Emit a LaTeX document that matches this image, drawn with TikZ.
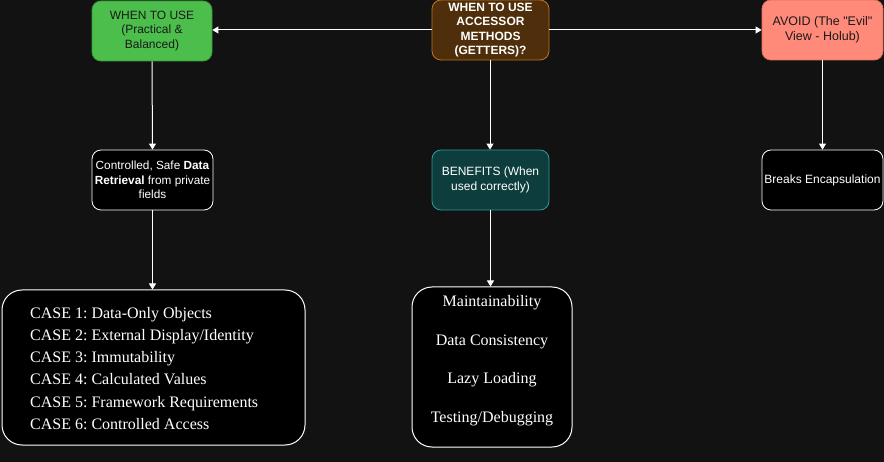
\documentclass[tikz,border=0pt]{standalone}
\usepackage{fontspec}
\setmainfont{Liberation Sans}[Ligatures=TeXOff]
\newfontfamily\serifl{Liberation Serif}
\usetikzlibrary{arrows.meta}
\definecolor{bgc}{HTML}{121212}
\definecolor{greenf}{HTML}{4BBE4B}
\definecolor{greend}{HTML}{3A9A3A}
\definecolor{brownf}{HTML}{4F2E0B}
\definecolor{brownd}{HTML}{C0741F}
\definecolor{salmonf}{HTML}{FF8A7A}
\definecolor{salmond}{HTML}{E07060}
\definecolor{tealf}{HTML}{0E3D3E}
\definecolor{teald}{HTML}{2A9C9C}
\definecolor{darktxt}{HTML}{1A1A1A}
\frenchspacing
\tikzset{
  box/.style={rounded corners=9pt, line width=0.8pt, align=center, inner sep=0pt,
    font=\fontsize{12}{14.5}\selectfont},
  listbox/.style={rounded corners=20pt, line width=1pt, draw=white, fill=black, inner sep=0pt},
  conn/.style={draw=white, line width=1pt, -{Triangle[width=7pt,length=6pt]}},
  listtext/.style={text=white, font=\serifl\fontsize{16}{22}\selectfont, inner sep=0pt}
}
\begin{document}
\begin{tikzpicture}[x=1pt,y=-1pt]
\fill[bgc] (0,0) rectangle (884,462);
\useasboundingbox (0,0) rectangle (884,462);
% top row
\node[box, draw=greend, fill=greenf, text=darktxt, minimum width=120pt, minimum height=60pt] (use) at (152,31) {WHEN TO USE\\(Practical \&\\Balanced)};
\node[box, draw=brownd, fill=brownf, text=white, minimum width=117pt, minimum height=60pt, font=\bfseries\fontsize{12}{14.3}\selectfont] (q) at (490.5,30) {WHEN TO USE\\ACCESSOR\\METHODS\\(GETTERS)?};
\node[box, draw=salmond, fill=salmonf, text=darktxt, minimum width=121pt, minimum height=60pt, font=\fontsize{12.5}{15}\selectfont] (avoid) at (822.5,30) {AVOID (The "Evil"\\View - Holub)};
% second row
\node[box, draw=white, fill=black, text=white, minimum width=121pt, minimum height=60pt, font=\fontsize{11.8}{14.5}\selectfont] (ctrl) at (152.5,180) {Controlled, Safe \textbf{Data}\\\textbf{Retrieval} from private\\fields};
\node[box, draw=teald, fill=tealf, text=white, minimum width=117pt, minimum height=60pt] (ben) at (490.5,180) {BENEFITS (When\\used correctly)};
\node[box, draw=white, fill=black, text=white, minimum width=121pt, minimum height=60pt, font=\fontsize{12}{14}\selectfont] (brk) at (822.5,180) {Breaks Encapsulation};
% list boxes
\node[listbox, minimum width=303pt, minimum height=155pt] (cases) at (153.5,367.5) {};
\node[listbox, minimum width=160pt, minimum height=160pt] (bl) at (492,367) {};
% list texts
\foreach \t [count=\i] in {CASE 1: Data-Only Objects, CASE 2: External Display/Identity, CASE 3: Immutability, CASE 4: Calculated Values, CASE 5: Framework Requirements, CASE 6: Controlled Access}{
  \node[listtext, anchor=base west] (c\i) at (30,{296+22.2*\i}) {\t};
}
\node[listtext, anchor=base] (b1) at (492,307) {Maintainability};
\node[listtext, anchor=base] (b2) at (492,346) {Data Consistency};
\node[listtext, anchor=base] (b3) at (492,384) {Lazy Loading};
\node[listtext, anchor=base] (b4) at (492,422) {Testing/Debugging};
% connectors
\draw[conn] (q.west) -- (use.east |- q.west);
\draw[conn] (q.east) -- (avoid.west);
\draw[conn] (use.south) -- (ctrl.north);
\draw[conn] ([xshift=-0.5pt]q.south) -- ([xshift=-0.5pt]ben.north);
\draw[conn] (avoid.south) -- (brk.north);
\draw[conn] (ctrl.south) -- (ctrl.south |- cases.north);
\draw[conn] (ben.south) -- (ben.south |- bl.north);
\end{tikzpicture}
\end{document}
